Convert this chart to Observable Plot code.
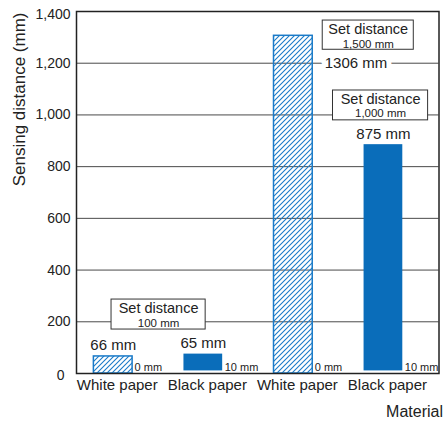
<!DOCTYPE html>
<html>
<head>
<meta charset="utf-8">
<script src="https://cdn.jsdelivr.net/npm/d3@7"></script>
<script src="https://cdn.jsdelivr.net/npm/@observablehq/plot@0.6"></script>
<style>
  html, body { margin: 0; padding: 0; background: #fff; }
  #chart svg { font-family: "Liberation Sans", Arial, Helvetica, sans-serif; color: #222; background: #fff; }
</style>
</head>
<body>
<div id="chart"></div>
<script>
// ---- data ----
const categories = ["White paper", "Black paper", "White paper", "Black paper"];
const paper = ["white", "black", "white", "black"];
const sensingDistance = [66, 65, 1306, 875];          // mm
const backgroundGap = [0, 10, 0, 10];                  // mm (distance from background)
const backgroundLabels = ["0 mm", "10 mm", "0 mm", "10 mm"];
const setDistanceLabels = ["100 mm", "1,500 mm", "1,000 mm"];
const yTicks = [0, 200, 400, 600, 800, 1000, 1200, 1400];
const yTitle = "Sensing distance (mm)";
const xTitle = "Material";

// ---- layout (annotation placement, in scale units) ----
const barHalf = 0.215;
const noteBoxes = [
  {x1: -0.019, x2: 1.026, y1: 170, y2: 286, label: setDistanceLabels[0]},
  {x1: 2.326, x2: 3.337, y1: 1252, y2: 1365, label: setDistanceLabels[1]},
  {x1: 2.440, x2: 3.496, y1: 979, y2: 1094.5, label: setDistanceLabels[2]}
];
const sideValueLabel = {index: 2, x: 2.348, y: 1200};

const blue = "#0a6dba";
const hatchBlue = "#1a7ac8";
const ink = "#222";

const bars = categories.map((c, i) => ({
  i, c, kind: paper[i], v: sensingDistance[i], gap: backgroundGap[i],
  gapLabel: backgroundLabels[i], label: `${sensingDistance[i]} mm`
}));
const whiteBars = bars.filter(d => d.kind === "white");
const blackBars = bars.filter(d => d.kind === "black");
const topLabels = bars.filter(d => d.i !== sideValueLabel.index);
const sideLabel = bars.filter(d => d.i === sideValueLabel.index);

const fmt = d3.format(",");

const chart = Plot.plot({
  width: 445,
  height: 423,
  marginLeft: 76,
  marginRight: 6.5,
  marginTop: 11,
  marginBottom: 50,
  style: {fontFamily: "'Liberation Sans', Arial, Helvetica, sans-serif", color: ink, background: "#fff"},
  x: {type: "linear", domain: [-0.408, 3.617], axis: null},
  y: {domain: [0, 1400], axis: null},
  marks: [
    // grid lines
    Plot.ruleY(yTicks.filter(t => t > 0 && t < 1400), {stroke: "#4a4a4a", strokeWidth: 1}),
    // hatched (white paper) bars
    Plot.rect(whiteBars, {
      x1: d => d.i - barHalf, x2: d => d.i + barHalf, y1: d => d.gap, y2: d => d.v + d.gap,
      fill: "url(#hatch)", stroke: hatchBlue, strokeWidth: 1.5
    }),
    // solid (black paper) bars
    Plot.rect(blackBars, {
      x1: d => d.i - barHalf, x2: d => d.i + barHalf, y1: d => d.gap, y2: d => d.v + d.gap,
      fill: blue
    }),
    // value labels above bars
    Plot.text(topLabels, {
      x: "i", y: d => d.v + d.gap, text: "label", lineAnchor: "bottom", dy: -6,
      fontSize: 15, fill: ink
    }),
    // value label beside tall bar (breaks the grid line)
    Plot.text(sideLabel, {
      x: () => sideValueLabel.x, y: () => sideValueLabel.y, text: "label", textAnchor: "start",
      lineAnchor: "middle", fontSize: 15, fill: ink, stroke: "#fff", strokeWidth: 10
    }),
    // background distance labels
    Plot.text(bars, {
      x: d => d.i + barHalf, y: 0, text: "gapLabel", textAnchor: "start", lineAnchor: "bottom",
      dx: 2, dy: -2.3, fontSize: 11, fill: ink
    }),
    // set distance boxes
    Plot.rect(noteBoxes, {x1: "x1", x2: "x2", y1: "y1", y2: "y2", fill: "#fff", stroke: "#333", strokeWidth: 1}),
    Plot.text(noteBoxes, {
      x: d => (d.x1 + d.x2) / 2, y: "y2", text: () => "Set distance", lineAnchor: "bottom",
      dy: 13.3, fontSize: 14.5, fill: ink
    }),
    Plot.text(noteBoxes, {
      x: d => (d.x1 + d.x2) / 2, y: "y2", text: "label", lineAnchor: "bottom",
      dy: 27, fontSize: 11.5, fill: ink
    }),
    // axes
    Plot.axisY({ticks: yTicks.filter(t => t > 0 && t < 1400), tickSize: 0, tickPadding: 6, tickFormat: fmt, fontSize: 14, label: null}),
    Plot.axisY({ticks: [1400], tickSize: 0, tickPadding: 6, tickFormat: fmt, fontSize: 14, dy: 3, label: null}),
    Plot.axisY({ticks: [0], tickSize: 0, tickPadding: 12, tickFormat: fmt, fontSize: 14, dy: 2, label: null}),
    Plot.axisX({ticks: [0, 1, 2, 3], tickSize: 0, tickPadding: 6, tickFormat: i => categories[i], fontSize: 15, dx: 4, label: null}),
    Plot.text([yTitle], {
      text: d => d, frameAnchor: "top-left", rotate: -90, textAnchor: "end", lineAnchor: "bottom",
      dx: -52, dy: 1, fontSize: 17, fill: ink
    }),
    Plot.text([xTitle], {
      text: d => d, frameAnchor: "bottom-right", textAnchor: "end", lineAnchor: "bottom",
      dx: 4, dy: 43, fontSize: 16, fill: ink
    }),
    Plot.frame({stroke: "#222", strokeWidth: 1.5})
  ]
});

// hatch pattern definition
const defs = d3.select(chart).insert("defs", ":first-child");
const pat = defs.append("pattern")
  .attr("id", "hatch")
  .attr("patternUnits", "userSpaceOnUse")
  .attr("width", 5).attr("height", 5);
pat.append("path")
  .attr("d", "M-1,1 L1,-1 M0,5 L5,0 M4,6 L6,4")
  .attr("stroke", hatchBlue).attr("stroke-width", 1.1).attr("fill", "none");

document.getElementById("chart").appendChild(chart);
</script>
</body>
</html>
